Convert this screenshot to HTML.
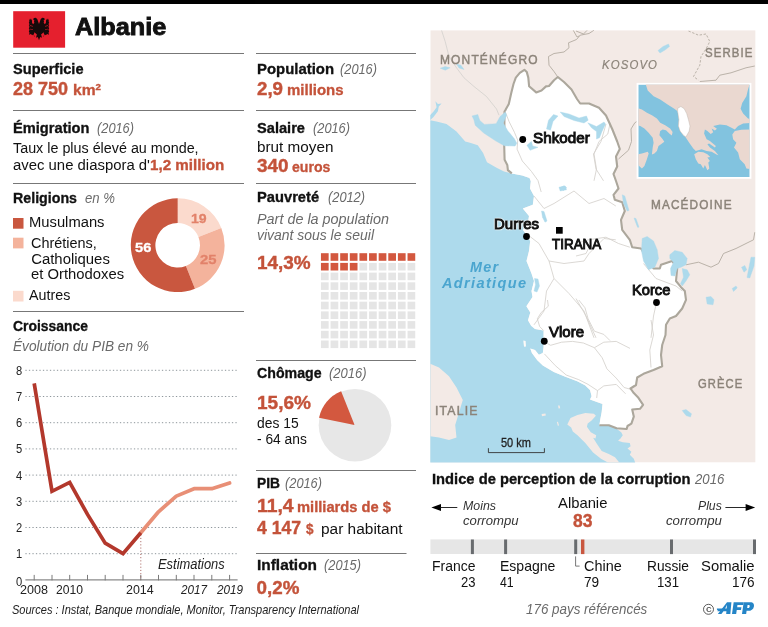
<!DOCTYPE html><html><head><meta charset="utf-8"><title>Albanie</title><style>

html,body{margin:0;padding:0;background:#fff;}
body{width:768px;height:627px;position:relative;overflow:hidden;font-family:"Liberation Sans",sans-serif;}
.t{position:absolute;white-space:nowrap;line-height:1;transform-origin:0 0;}
#w{position:absolute;left:0;top:0;width:768px;height:627px;will-change:transform;opacity:0.999;}
.r{position:absolute;height:1px;background:#6f6f6f;}
svg{position:absolute;left:0;top:0;}

</style></head><body><div id="w">
<svg width="768" height="627" viewBox="0 0 768 627">
<rect x="0" y="0" width="768" height="4" fill="#000"/>
<rect x="13.2" y="11.2" width="51.9" height="36.5" fill="#e5202e"/>
<path transform="translate(8,6) scale(0.083333)" fill="#160a0a" d="M372,215 L352,160 L335,140 L312,145 L300,160 L318,170 L305,185 L318,200 L300,215 L290,180 L275,150 L262,170 L252,150 L256,185 L250,200 L258,215 L250,235 L258,250 L250,270 L258,285 L250,305 L258,320 L252,345 L275,335 L290,350 L305,340 L315,365 L335,355 L340,380 L358,372 L372,410 L386,372 L404,380 L409,355 L429,365 L439,340 L454,350 L469,335 L492,345 L486,320 L494,305 L486,285 L494,270 L486,250 L494,235 L486,215 L494,200 L488,185 L492,150 L482,170 L469,150 L454,180 L444,215 L426,200 L439,185 L426,170 L444,160 L432,145 L409,140 L392,160 Z"/>
<path transform="translate(8,6) scale(0.083333)" fill="#e5202e" d="M296,163 L314,186 L301,218 L287,196 Z M448,163 L430,186 L443,218 L457,196 Z M316,314 L347,343 L336,374 L310,352 Z M428,314 L397,343 L408,374 L434,352 Z M262,232 L300,240 L300,246 L262,240 Z M482,232 L444,240 L444,246 L482,240 Z M262,272 L300,280 L300,286 L262,280 Z M482,272 L444,280 L444,286 L482,280 Z"/>
<rect x="13" y="53" width="231" height="1" fill="#777"/>
<rect x="256" y="53" width="160" height="1" fill="#777"/>
<rect x="13" y="110" width="231" height="1" fill="#777"/>
<rect x="256" y="110" width="160" height="1" fill="#777"/>
<rect x="13" y="183" width="231" height="1" fill="#777"/>
<rect x="256" y="183" width="160" height="1" fill="#777"/>
<rect x="13" y="311" width="231" height="1" fill="#777"/>
<rect x="256" y="360" width="160" height="1" fill="#777"/>
<rect x="256" y="470" width="160" height="1" fill="#777"/>
<rect x="256" y="553" width="150.5" height="1" fill="#777"/>
<rect x="13" y="218" width="10.5" height="10.7" fill="#c9573f"/>
<rect x="13" y="237.7" width="10.5" height="10.7" fill="#f4b39c"/>
<rect x="13" y="290.8" width="10.5" height="10.7" fill="#fbdacd"/>
<path d="M177.70,198.30 A46.9,46.9 0 0 1 221.31,227.93 L198.43,236.99 A22.3,22.3 0 0 0 177.70,222.90Z" fill="#fbdacd"/>
<path d="M221.31,227.93 A46.9,46.9 0 0 1 194.97,288.81 L185.91,265.93 A22.3,22.3 0 0 0 198.43,236.99Z" fill="#f4b39c"/>
<path d="M194.97,288.81 A46.9,46.9 0 1 1 177.70,198.30 L177.70,222.90 A22.3,22.3 0 1 0 185.91,265.93Z" fill="#c9573f"/>
<line x1="25.4" y1="553.7" x2="237.6" y2="553.7" stroke="#8f979c" stroke-width="1" stroke-dasharray="1.3 2.2"/>
<line x1="25.4" y1="527.5" x2="237.6" y2="527.5" stroke="#8f979c" stroke-width="1" stroke-dasharray="1.3 2.2"/>
<line x1="25.4" y1="501.3" x2="237.6" y2="501.3" stroke="#8f979c" stroke-width="1" stroke-dasharray="1.3 2.2"/>
<line x1="25.4" y1="475.1" x2="237.6" y2="475.1" stroke="#8f979c" stroke-width="1" stroke-dasharray="1.3 2.2"/>
<line x1="25.4" y1="448.9" x2="237.6" y2="448.9" stroke="#8f979c" stroke-width="1" stroke-dasharray="1.3 2.2"/>
<line x1="25.4" y1="422.7" x2="237.6" y2="422.7" stroke="#8f979c" stroke-width="1" stroke-dasharray="1.3 2.2"/>
<line x1="25.4" y1="396.5" x2="237.6" y2="396.5" stroke="#8f979c" stroke-width="1" stroke-dasharray="1.3 2.2"/>
<line x1="25.4" y1="370.3" x2="237.6" y2="370.3" stroke="#8f979c" stroke-width="1" stroke-dasharray="1.3 2.2"/>
<line x1="25.4" y1="579.9" x2="237.6" y2="579.9" stroke="#8a8a8a" stroke-width="1.2"/>
<line x1="34.2" y1="574.9" x2="34.2" y2="580.4" stroke="#7a7a7a" stroke-width="1"/>
<line x1="52.0" y1="574.9" x2="52.0" y2="580.4" stroke="#7a7a7a" stroke-width="1"/>
<line x1="69.7" y1="574.9" x2="69.7" y2="580.4" stroke="#7a7a7a" stroke-width="1"/>
<line x1="87.5" y1="574.9" x2="87.5" y2="580.4" stroke="#7a7a7a" stroke-width="1"/>
<line x1="105.2" y1="574.9" x2="105.2" y2="580.4" stroke="#7a7a7a" stroke-width="1"/>
<line x1="123.0" y1="574.9" x2="123.0" y2="580.4" stroke="#7a7a7a" stroke-width="1"/>
<line x1="140.8" y1="574.9" x2="140.8" y2="580.4" stroke="#7a7a7a" stroke-width="1"/>
<line x1="158.5" y1="574.9" x2="158.5" y2="580.4" stroke="#7a7a7a" stroke-width="1"/>
<line x1="176.3" y1="574.9" x2="176.3" y2="580.4" stroke="#7a7a7a" stroke-width="1"/>
<line x1="194.0" y1="574.9" x2="194.0" y2="580.4" stroke="#7a7a7a" stroke-width="1"/>
<line x1="211.8" y1="574.9" x2="211.8" y2="580.4" stroke="#7a7a7a" stroke-width="1"/>
<line x1="229.6" y1="574.9" x2="229.6" y2="580.4" stroke="#7a7a7a" stroke-width="1"/>
<line x1="140.8" y1="534.7" x2="140.8" y2="579.9" stroke="#a35a55" stroke-width="0.9" stroke-dasharray="1.1 2.1"/>
<path d="M140.8,532.7 L158.5,511.8 L176.3,496.1 L194.0,488.7 L211.8,488.7 L229.6,483.0" fill="none" stroke="#e88f76" stroke-width="3.7" stroke-linejoin="round" stroke-linecap="round"/>
<path d="M34.2,383.4 L52.0,491.3 L69.7,482.4 L87.5,514.4 L105.2,543.2 L123.0,553.7 L140.8,532.7" fill="none" stroke="#b3382c" stroke-width="3.7" stroke-linejoin="miter" stroke-linecap="butt"/>
<rect x="320.95" y="253.20" width="7.7" height="7.6" fill="#d3583f"/>
<rect x="330.57" y="253.20" width="7.7" height="7.6" fill="#d3583f"/>
<rect x="340.19" y="253.20" width="7.7" height="7.6" fill="#d3583f"/>
<rect x="349.81" y="253.20" width="7.7" height="7.6" fill="#d3583f"/>
<rect x="359.43" y="253.20" width="7.7" height="7.6" fill="#d3583f"/>
<rect x="369.05" y="253.20" width="7.7" height="7.6" fill="#d3583f"/>
<rect x="378.67" y="253.20" width="7.7" height="7.6" fill="#d3583f"/>
<rect x="388.29" y="253.20" width="7.7" height="7.6" fill="#d3583f"/>
<rect x="397.91" y="253.20" width="7.7" height="7.6" fill="#d3583f"/>
<rect x="407.53" y="253.20" width="7.7" height="7.6" fill="#d3583f"/>
<rect x="320.95" y="262.90" width="7.7" height="7.6" fill="#d3583f"/>
<rect x="330.57" y="262.90" width="7.7" height="7.6" fill="#d3583f"/>
<rect x="340.19" y="262.90" width="7.7" height="7.6" fill="#d3583f"/>
<rect x="349.81" y="262.90" width="7.7" height="7.6" fill="#d3583f"/>
<rect x="359.43" y="262.90" width="7.7" height="7.6" fill="#e5e5e5"/>
<rect x="369.05" y="262.90" width="7.7" height="7.6" fill="#e5e5e5"/>
<rect x="378.67" y="262.90" width="7.7" height="7.6" fill="#e5e5e5"/>
<rect x="388.29" y="262.90" width="7.7" height="7.6" fill="#e5e5e5"/>
<rect x="397.91" y="262.90" width="7.7" height="7.6" fill="#e5e5e5"/>
<rect x="407.53" y="262.90" width="7.7" height="7.6" fill="#e5e5e5"/>
<rect x="320.95" y="272.60" width="7.7" height="7.6" fill="#e5e5e5"/>
<rect x="330.57" y="272.60" width="7.7" height="7.6" fill="#e5e5e5"/>
<rect x="340.19" y="272.60" width="7.7" height="7.6" fill="#e5e5e5"/>
<rect x="349.81" y="272.60" width="7.7" height="7.6" fill="#e5e5e5"/>
<rect x="359.43" y="272.60" width="7.7" height="7.6" fill="#e5e5e5"/>
<rect x="369.05" y="272.60" width="7.7" height="7.6" fill="#e5e5e5"/>
<rect x="378.67" y="272.60" width="7.7" height="7.6" fill="#e5e5e5"/>
<rect x="388.29" y="272.60" width="7.7" height="7.6" fill="#e5e5e5"/>
<rect x="397.91" y="272.60" width="7.7" height="7.6" fill="#e5e5e5"/>
<rect x="407.53" y="272.60" width="7.7" height="7.6" fill="#e5e5e5"/>
<rect x="320.95" y="282.30" width="7.7" height="7.6" fill="#e5e5e5"/>
<rect x="330.57" y="282.30" width="7.7" height="7.6" fill="#e5e5e5"/>
<rect x="340.19" y="282.30" width="7.7" height="7.6" fill="#e5e5e5"/>
<rect x="349.81" y="282.30" width="7.7" height="7.6" fill="#e5e5e5"/>
<rect x="359.43" y="282.30" width="7.7" height="7.6" fill="#e5e5e5"/>
<rect x="369.05" y="282.30" width="7.7" height="7.6" fill="#e5e5e5"/>
<rect x="378.67" y="282.30" width="7.7" height="7.6" fill="#e5e5e5"/>
<rect x="388.29" y="282.30" width="7.7" height="7.6" fill="#e5e5e5"/>
<rect x="397.91" y="282.30" width="7.7" height="7.6" fill="#e5e5e5"/>
<rect x="407.53" y="282.30" width="7.7" height="7.6" fill="#e5e5e5"/>
<rect x="320.95" y="292.00" width="7.7" height="7.6" fill="#e5e5e5"/>
<rect x="330.57" y="292.00" width="7.7" height="7.6" fill="#e5e5e5"/>
<rect x="340.19" y="292.00" width="7.7" height="7.6" fill="#e5e5e5"/>
<rect x="349.81" y="292.00" width="7.7" height="7.6" fill="#e5e5e5"/>
<rect x="359.43" y="292.00" width="7.7" height="7.6" fill="#e5e5e5"/>
<rect x="369.05" y="292.00" width="7.7" height="7.6" fill="#e5e5e5"/>
<rect x="378.67" y="292.00" width="7.7" height="7.6" fill="#e5e5e5"/>
<rect x="388.29" y="292.00" width="7.7" height="7.6" fill="#e5e5e5"/>
<rect x="397.91" y="292.00" width="7.7" height="7.6" fill="#e5e5e5"/>
<rect x="407.53" y="292.00" width="7.7" height="7.6" fill="#e5e5e5"/>
<rect x="320.95" y="301.70" width="7.7" height="7.6" fill="#e5e5e5"/>
<rect x="330.57" y="301.70" width="7.7" height="7.6" fill="#e5e5e5"/>
<rect x="340.19" y="301.70" width="7.7" height="7.6" fill="#e5e5e5"/>
<rect x="349.81" y="301.70" width="7.7" height="7.6" fill="#e5e5e5"/>
<rect x="359.43" y="301.70" width="7.7" height="7.6" fill="#e5e5e5"/>
<rect x="369.05" y="301.70" width="7.7" height="7.6" fill="#e5e5e5"/>
<rect x="378.67" y="301.70" width="7.7" height="7.6" fill="#e5e5e5"/>
<rect x="388.29" y="301.70" width="7.7" height="7.6" fill="#e5e5e5"/>
<rect x="397.91" y="301.70" width="7.7" height="7.6" fill="#e5e5e5"/>
<rect x="407.53" y="301.70" width="7.7" height="7.6" fill="#e5e5e5"/>
<rect x="320.95" y="311.40" width="7.7" height="7.6" fill="#e5e5e5"/>
<rect x="330.57" y="311.40" width="7.7" height="7.6" fill="#e5e5e5"/>
<rect x="340.19" y="311.40" width="7.7" height="7.6" fill="#e5e5e5"/>
<rect x="349.81" y="311.40" width="7.7" height="7.6" fill="#e5e5e5"/>
<rect x="359.43" y="311.40" width="7.7" height="7.6" fill="#e5e5e5"/>
<rect x="369.05" y="311.40" width="7.7" height="7.6" fill="#e5e5e5"/>
<rect x="378.67" y="311.40" width="7.7" height="7.6" fill="#e5e5e5"/>
<rect x="388.29" y="311.40" width="7.7" height="7.6" fill="#e5e5e5"/>
<rect x="397.91" y="311.40" width="7.7" height="7.6" fill="#e5e5e5"/>
<rect x="407.53" y="311.40" width="7.7" height="7.6" fill="#e5e5e5"/>
<rect x="320.95" y="321.10" width="7.7" height="7.6" fill="#e5e5e5"/>
<rect x="330.57" y="321.10" width="7.7" height="7.6" fill="#e5e5e5"/>
<rect x="340.19" y="321.10" width="7.7" height="7.6" fill="#e5e5e5"/>
<rect x="349.81" y="321.10" width="7.7" height="7.6" fill="#e5e5e5"/>
<rect x="359.43" y="321.10" width="7.7" height="7.6" fill="#e5e5e5"/>
<rect x="369.05" y="321.10" width="7.7" height="7.6" fill="#e5e5e5"/>
<rect x="378.67" y="321.10" width="7.7" height="7.6" fill="#e5e5e5"/>
<rect x="388.29" y="321.10" width="7.7" height="7.6" fill="#e5e5e5"/>
<rect x="397.91" y="321.10" width="7.7" height="7.6" fill="#e5e5e5"/>
<rect x="407.53" y="321.10" width="7.7" height="7.6" fill="#e5e5e5"/>
<rect x="320.95" y="330.80" width="7.7" height="7.6" fill="#e5e5e5"/>
<rect x="330.57" y="330.80" width="7.7" height="7.6" fill="#e5e5e5"/>
<rect x="340.19" y="330.80" width="7.7" height="7.6" fill="#e5e5e5"/>
<rect x="349.81" y="330.80" width="7.7" height="7.6" fill="#e5e5e5"/>
<rect x="359.43" y="330.80" width="7.7" height="7.6" fill="#e5e5e5"/>
<rect x="369.05" y="330.80" width="7.7" height="7.6" fill="#e5e5e5"/>
<rect x="378.67" y="330.80" width="7.7" height="7.6" fill="#e5e5e5"/>
<rect x="388.29" y="330.80" width="7.7" height="7.6" fill="#e5e5e5"/>
<rect x="397.91" y="330.80" width="7.7" height="7.6" fill="#e5e5e5"/>
<rect x="407.53" y="330.80" width="7.7" height="7.6" fill="#e5e5e5"/>
<rect x="320.95" y="340.50" width="7.7" height="7.6" fill="#e5e5e5"/>
<rect x="330.57" y="340.50" width="7.7" height="7.6" fill="#e5e5e5"/>
<rect x="340.19" y="340.50" width="7.7" height="7.6" fill="#e5e5e5"/>
<rect x="349.81" y="340.50" width="7.7" height="7.6" fill="#e5e5e5"/>
<rect x="359.43" y="340.50" width="7.7" height="7.6" fill="#e5e5e5"/>
<rect x="369.05" y="340.50" width="7.7" height="7.6" fill="#e5e5e5"/>
<rect x="378.67" y="340.50" width="7.7" height="7.6" fill="#e5e5e5"/>
<rect x="388.29" y="340.50" width="7.7" height="7.6" fill="#e5e5e5"/>
<rect x="397.91" y="340.50" width="7.7" height="7.6" fill="#e5e5e5"/>
<rect x="407.53" y="340.50" width="7.7" height="7.6" fill="#e5e5e5"/>
<circle cx="355" cy="425.2" r="36.3" fill="#e7e7e7"/>
<path d="M354.6,424.9 L319.02,417.73 A36.3,36.3 0 0 1 341.12,391.20Z" fill="#d3583f"/>
<clipPath id="mc"><rect x="430.3" y="30.2" width="325.3" height="432.40000000000003"/></clipPath>
<g clip-path="url(#mc)">
<rect x="430.3" y="30.2" width="325.3" height="432.40000000000003" fill="#f3eae6"/>
<path d="M430.0,120.2 L436.5,121.5 L446.5,124.0 L456.5,131.5 L465.2,141.5 L470.0,142.7 L477.8,145.3 L483.1,153.1 L487.0,162.3 L496.1,167.5 L504.0,171.4 L511.8,173.4 L522.3,175.4 L529.5,178.0 L530.8,181.2 L530.0,188.5 L534.0,196.0 L532.8,204.8 L522.8,208.5 L529.0,216.0 L527.8,223.5 L522.8,229.8 L526.5,234.8 L530.2,241.0 L529.0,251.0 L526.5,261.0 L531.5,273.5 L534.0,281.0 L531.5,291.0 L532.5,297.0 L530.5,300.0 L526.4,306.2 L530.3,312.5 L528.0,320.3 L531.1,325.8 L535.0,328.9 L543.6,330.5 L543.6,337.5 L543.6,346.9 L542.8,353.1 L538.9,354.7 L535.0,350.0 L530.3,348.4 L531.9,353.1 L537.3,360.2 L542.8,365.6 L553.8,371.9 L564.7,376.6 L577.2,381.2 L585.0,385.2 L590.0,390.0 L591.6,396.2 L590.0,399.4 L596.2,401.7 L602.5,404.0 L601.7,411.9 L600.2,419.7 L599.4,425.2 L608.8,425.6 L616.6,428.8 L621.2,432.2 L622.8,435.3 L620.5,438.4 L618.1,440.8 L622.8,442.3 L629.8,443.1 L630.6,446.2 L627.5,448.6 L631.4,451.7 L629.8,454.8 L633.8,458.8 L635.3,463.0 L430.0,463.0Z" fill="#addaec"/>
<path d="M429.9,115.4 L433.8,111.2 L436.6,107.2 L435.4,101.3 L437.9,104.1 L441.6,103.5 L438.8,106.6 L437.9,111.3 L433.5,116.9 L429.9,120.4Z" fill="#addaec"/>
<path d="M430.2,363.8 L439.0,367.5 L449.0,376.2 L456.5,387.5 L462.8,400.0 L459.0,412.5 L455.2,425.0 L456.5,437.5 L449.0,440.0 L439.0,437.5 L430.2,436.2Z" fill="#f3eae6"/>
<path d="M567.3,424.4 L570.5,418.1 L577.5,415.0 L585.3,413.1 L593.9,413.8 L595.9,415.8 L591.6,420.5 L587.7,423.6 L586.9,426.7 L590.8,432.2 L596.2,435.3 L595.5,438.4 L593.1,437.7 L597.0,443.9 L601.7,450.9 L608.8,454.0 L615.0,457.2 L619.7,463.0 L608.8,463.0 L601.0,458.8 L593.1,452.5 L585.3,443.1 L577.5,435.3 L572.8,431.4 L571.2,427.5Z" fill="#f3eae6"/>
<path d="M541.6,414.0 L545.5,413.6 L545.8,415.6 L542.0,416.2Z" fill="#f3eae6"/>
<path d="M558.0,405.6 L559.6,405.4 L560.2,408.2 L558.6,408.6Z" fill="#f3eae6"/>
<path d="M556.9,422.0 L558.0,421.8 L559.0,425.4 L557.8,425.8Z" fill="#f3eae6"/>
<path d="M557.8,77.0 L554.0,71.5 L549.0,65.2 L548.5,56.5 L554.0,53.5 L564.0,52.0 L569.0,47.8 L568.5,42.8 L576.5,39.5 L580.2,35.2 L589.0,33.5 L594.0,30.2" fill="none" stroke="#b3aca2" stroke-width="0.9" stroke-linejoin="round"/>
<path d="M573.2,30.2 L577.0,37.0 L579.5,35.8" fill="none" stroke="#b3aca2" stroke-width="0.9" stroke-linejoin="round"/>
<path d="M618.5,159.0 L628.5,150.2 L631.5,141.5 L631.0,129.0 L634.8,122.8 L636.8,121.5" fill="none" stroke="#b3aca2" stroke-width="0.9" stroke-linejoin="round"/>
<path d="M699.8,81.5 L716.0,80.2 L719.8,75.2 L731.0,72.8 L746.0,67.8 L754.8,66.0" fill="none" stroke="#b3aca2" stroke-width="0.9" stroke-linejoin="round"/>
<path d="M686.0,264.8 L698.5,262.2 L711.0,267.2 L718.5,263.5 L723.5,253.5 L736.0,248.5 L746.0,243.5 L753.5,239.8 L754.8,232.2" fill="none" stroke="#b3aca2" stroke-width="0.9" stroke-linejoin="round"/>
<path d="M576.0,31.0 L583.5,34.0 L587.2,30.2" fill="none" stroke="#b3aca2" stroke-width="0.9" stroke-linejoin="round"/>
<path d="M441.5,30.2 L445.2,41.5 L449.0,56.5 L456.5,67.8 L464.0,77.8 L474.0,86.5 L486.5,96.5 L496.5,109.0 L499.0,115.2" fill="none" stroke="#cfcdca" stroke-width="0.7" stroke-linejoin="round"/>
<path d="M688.5,31.0 L698.5,35.2 L706.0,34.0 L709.8,41.5 L706.0,49.0 L701.0,56.5 L699.8,65.2 L693.5,76.5 L698.5,80.2" fill="none" stroke="#b3aca2" stroke-width="0.9" stroke-dasharray="2.4 1.6"/>
<path d="M511.8,173.4 L507.9,170.1 L507.3,164.9 L504.6,159.7 L504.2,145.3 L504.5,111.5 L505.7,109.6 L508.8,104.1 L511.2,93.2 L513.5,84.0 L515.8,77.6 L519.8,72.9 L524.4,69.8 L526.8,72.1 L528.3,77.6 L529.1,86.2 L536.2,92.4 L541.5,90.5 L546.0,86.4 L549.0,86.0 L554.0,80.2 L557.8,77.0 L564.0,82.0 L571.5,89.5 L577.0,99.0 L580.2,103.5 L589.0,103.5 L599.0,107.8 L606.0,115.5 L612.2,129.0 L617.2,141.5 L619.8,149.0 L616.0,156.5 L617.2,166.5 L613.5,174.0 L616.0,181.0 L618.5,188.5 L613.5,194.8 L614.8,199.8 L622.2,202.2 L624.8,211.0 L621.0,219.8 L622.2,229.8 L629.8,239.8 L632.2,247.2 L641.0,248.5 L653.5,268.5 L659.8,268.5 L661.0,264.8 L672.2,261.0 L677.2,268.5 L676.0,281.0 L681.0,287.2 L684.8,291.0 L686.0,299.8 L682.2,308.5 L676.0,316.0 L669.8,318.5 L666.0,324.8 L665.5,335.0 L662.2,345.0 L661.0,355.0 L662.2,366.2 L653.5,370.0 L643.5,373.8 L637.2,377.5 L636.0,385.0 L630.5,388.5 L633.8,393.1 L638.4,397.8 L643.1,404.8 L640.0,408.8 L632.2,409.5 L633.8,416.6 L631.4,423.6 L627.5,426.0 L626.7,429.0 L616.6,428.3 L608.8,425.2 L599.4,425.2 L600.2,419.7 L601.7,411.9 L602.5,404.0 L596.2,401.7 L590.0,399.4 L591.6,396.2 L590.0,390.0 L585.0,385.2 L577.2,381.2 L564.7,376.6 L553.8,371.9 L542.8,365.6 L537.3,360.2 L531.9,353.1 L530.3,348.4 L535.0,350.0 L538.9,354.7 L542.8,353.1 L543.6,346.9 L543.6,337.5 L543.6,330.5 L535.0,328.9 L531.1,325.8 L528.0,320.3 L530.3,312.5 L526.4,306.2 L530.5,300.0 L532.5,297.0 L531.5,291.0 L534.0,281.0 L531.5,273.5 L526.5,261.0 L529.0,251.0 L530.2,241.0 L526.5,234.8 L522.8,229.8 L527.8,223.5 L529.0,216.0 L522.8,208.5 L532.8,204.8 L534.0,196.0 L530.0,188.5 L530.8,181.2 L529.5,178.0 L522.3,175.4Z" fill="#fff"/>
<path d="M523.3,340.6 L525.6,341.0 L526.0,346.6 L524.0,346.8Z" fill="#fdfaf8"/>
<path d="M543.6,341.4 L550.6,345.3 L561.6,342.2 L572.5,341.4 L583.4,343.0 L594.4,347.7 L603.8,342.2 L616.2,341.4 L630.0,348.4" fill="none" stroke="#d2cec9" stroke-width="0.8" stroke-linejoin="round"/>
<path d="M594.4,347.7 L602.2,357.8 L606.9,368.8 L616.2,378.1 L624.1,387.5 L630.0,389.1" fill="none" stroke="#d2cec9" stroke-width="0.8" stroke-linejoin="round"/>
<path d="M547.5,300.0 L548.3,306.2 L541.2,312.5 L537.3,318.8 L539.7,326.6 L543.6,330.5" fill="none" stroke="#d2cec9" stroke-width="0.8" stroke-linejoin="round"/>
<path d="M578.8,300.0 L585.0,307.8 L588.1,318.8 L594.4,331.2 L603.8,334.4 L610.0,340.6" fill="none" stroke="#d2cec9" stroke-width="0.8" stroke-linejoin="round"/>
<path d="M544.4,353.9 L555.3,365.6 L566.2,375.0 L578.8,379.7 L588.1,384.4 L597.5,390.6 L596.7,398.0" fill="none" stroke="#d2cec9" stroke-width="0.8" stroke-linejoin="round"/>
<path d="M597.5,390.6 L603.8,385.9 L616.2,384.4 L625.6,393.8" fill="none" stroke="#d2cec9" stroke-width="0.8" stroke-linejoin="round"/>
<path d="M505.3,112.0 L509.2,121.8 L514.4,132.2 L517.7,140.1 L517.1,149.2 L522.3,161.0 L531.4,171.4 L538.0,180.6 L541.2,192.0" fill="none" stroke="#d2cec9" stroke-width="0.8" stroke-linejoin="round"/>
<path d="M610.2,122.8 L607.8,134.0 L599.0,141.5 L594.0,154.0 L596.5,169.0 L594.0,180.8" fill="none" stroke="#d2cec9" stroke-width="0.8" stroke-linejoin="round"/>
<path d="M606.0,124.0 L601.0,141.5 L593.5,154.0 L596.0,169.0 L603.5,180.8" fill="none" stroke="#d2cec9" stroke-width="0.8" stroke-linejoin="round"/>
<path d="M534.0,196.0 L544.0,208.5 L554.0,203.5 L574.0,191.0 L589.0,203.5 L604.0,198.5 L615.8,206.0" fill="none" stroke="#d2cec9" stroke-width="0.8" stroke-linejoin="round"/>
<path d="M527.8,234.8 L539.0,243.5 L549.0,261.0 L564.0,263.5 L584.0,261.0 L589.0,253.5 L604.0,238.5 L615.8,239.8" fill="none" stroke="#d2cec9" stroke-width="0.8" stroke-linejoin="round"/>
<path d="M549.0,261.0 L554.0,278.5 L546.5,291.0 L544.0,311.0 L534.0,324.8" fill="none" stroke="#d2cec9" stroke-width="0.8" stroke-linejoin="round"/>
<path d="M554.0,278.5 L569.0,293.5 L584.0,311.0 L594.0,337.8" fill="none" stroke="#d2cec9" stroke-width="0.8" stroke-linejoin="round"/>
<path d="M576.0,243.5 L588.5,239.8 L606.0,237.2 L618.5,243.5 L629.8,247.2" fill="none" stroke="#d2cec9" stroke-width="0.8" stroke-linejoin="round"/>
<path d="M576.0,256.0 L586.0,253.5 L591.0,243.5" fill="none" stroke="#d2cec9" stroke-width="0.8" stroke-linejoin="round"/>
<path d="M643.5,263.5 L656.0,278.5 L676.0,286.0 L682.2,291.0" fill="none" stroke="#d2cec9" stroke-width="0.8" stroke-linejoin="round"/>
<path d="M656.5,302.5 L653.5,316.0 L651.0,337.8" fill="none" stroke="#d2cec9" stroke-width="0.8" stroke-linejoin="round"/>
<path d="M576.0,298.5 L586.0,316.0 L596.0,337.8" fill="none" stroke="#d2cec9" stroke-width="0.8" stroke-linejoin="round"/>
<path d="M651.0,320.0 L653.5,335.0 L649.8,350.0 L651.0,367.5" fill="none" stroke="#d2cec9" stroke-width="0.8" stroke-linejoin="round"/>
<path d="M511.8,173.4 L507.9,170.1 L507.3,164.9 L504.6,159.7 L504.2,145.3 L504.5,111.5 L505.7,109.6 L508.8,104.1 L511.2,93.2 L513.5,84.0 L515.8,77.6 L519.8,72.9 L524.4,69.8 L526.8,72.1 L528.3,77.6 L529.1,86.2 L536.2,92.4 L541.5,90.5 L546.0,86.4 L549.0,86.0 L554.0,80.2 L557.8,77.0 L564.0,82.0 L571.5,89.5 L577.0,99.0 L580.2,103.5 L589.0,103.5 L599.0,107.8 L606.0,115.5 L612.2,129.0 L617.2,141.5 L619.8,149.0 L616.0,156.5 L617.2,166.5 L613.5,174.0 L616.0,181.0 L618.5,188.5 L613.5,194.8 L614.8,199.8 L622.2,202.2 L624.8,211.0 L621.0,219.8 L622.2,229.8 L629.8,239.8 L632.2,247.2 L641.0,248.5 L653.5,268.5 L659.8,268.5 L661.0,264.8 L672.2,261.0 L677.2,268.5 L676.0,281.0 L681.0,287.2 L684.8,291.0 L686.0,299.8 L682.2,308.5 L676.0,316.0 L669.8,318.5 L666.0,324.8 L665.5,335.0 L662.2,345.0 L661.0,355.0 L662.2,366.2 L653.5,370.0 L643.5,373.8 L637.2,377.5 L636.0,385.0 L630.5,388.5 L633.8,393.1 L638.4,397.8 L643.1,404.8 L640.0,408.8 L632.2,409.5 L633.8,416.6 L631.4,423.6 L627.5,426.0 L626.7,429.0 L616.6,428.3 L608.8,425.2 L599.4,425.2" fill="none" stroke="#aca79c" stroke-width="2.1" stroke-linejoin="round"/>
<path d="M472.0,115.9 L477.8,114.6 L479.8,120.5 L484.4,124.4 L496.1,123.7 L500.1,116.5 L505.3,112.0 L506.6,115.2 L503.3,123.1 L507.9,130.9 L514.4,138.8 L516.8,143.3 L515.1,146.1 L504.2,145.7 L495.5,140.8 L483.7,133.0 L475.2,125.2 L473.9,119.8Z" fill="#addaec" stroke="#addaec" stroke-width="0.4" stroke-linejoin="round"/>
<path d="M440.2,68.2 L445.2,66.5 L450.2,67.8 L445.2,70.2Z" fill="#addaec" stroke="#addaec" stroke-width="0.4" stroke-linejoin="round"/>
<path d="M456.5,64.0 L461.0,65.2 L464.0,69.5 L459.0,68.0Z" fill="#addaec" stroke="#addaec" stroke-width="0.4" stroke-linejoin="round"/>
<path d="M546.5,129.0 L548.5,120.2 L553.5,114.5 L558.0,116.0 L553.0,121.5 L550.5,130.2Z" fill="#addaec" stroke="#addaec" stroke-width="0.4" stroke-linejoin="round"/>
<path d="M560.2,112.0 L569.0,114.0 L579.0,118.0 L586.5,116.0 L588.2,120.2 L584.0,123.0 L574.0,120.5 L564.0,116.5Z" fill="#addaec" stroke="#addaec" stroke-width="0.4" stroke-linejoin="round"/>
<path d="M587.8,122.8 L596.5,126.5 L604.0,122.0 L605.5,124.0 L602.0,131.5 L599.5,137.8 L596.5,139.0 L596.5,131.5 L591.5,127.8Z" fill="#addaec" stroke="#addaec" stroke-width="0.4" stroke-linejoin="round"/>
<path d="M526.9,145.3 L531.4,141.4 L532.7,145.9 L538.0,147.3 L530.1,150.3Z" fill="#addaec" stroke="#addaec" stroke-width="0.4" stroke-linejoin="round"/>
<path d="M658.0,50.5 L663.0,46.5 L668.5,44.0 L669.5,46.5 L665.0,50.0 L660.0,53.0Z" fill="#addaec" stroke="#addaec" stroke-width="0.4" stroke-linejoin="round"/>
<path d="M559.0,187.2 L565.2,186.0 L566.5,189.8 L560.2,191.0Z" fill="#addaec" stroke="#addaec" stroke-width="0.4" stroke-linejoin="round"/>
<path d="M541.5,211.0 L544.0,211.5 L547.0,221.0 L545.0,222.2 L542.5,217.2Z" fill="#addaec" stroke="#addaec" stroke-width="0.4" stroke-linejoin="round"/>
<path d="M534.5,278.5 L538.0,279.0 L539.5,286.0 L537.0,292.0 L534.0,291.0 L535.5,284.8Z" fill="#addaec" stroke="#addaec" stroke-width="0.4" stroke-linejoin="round"/>
<path d="M642.2,238.5 L647.2,236.5 L653.5,241.0 L657.2,249.8 L658.5,258.5 L654.8,267.2 L648.5,269.8 L643.5,261.0 L641.5,251.0Z" fill="#addaec" stroke="#addaec" stroke-width="0.4" stroke-linejoin="round"/>
<path d="M669.8,254.8 L674.8,250.5 L682.2,252.2 L687.2,258.5 L686.0,264.8 L681.0,267.2 L677.2,268.5 L674.8,276.0 L671.0,275.5 L670.5,268.5 L673.5,262.2 L669.8,258.5Z" fill="#addaec" stroke="#addaec" stroke-width="0.4" stroke-linejoin="round"/>
<path d="M682.2,268.5 L687.2,269.8 L689.8,274.8 L686.0,281.0 L682.2,286.0 L680.5,283.5 L683.5,277.2Z" fill="#addaec" stroke="#addaec" stroke-width="0.4" stroke-linejoin="round"/>
<path d="M622.2,194.8 L624.8,196.0 L629.0,210.5 L627.2,211.0 L623.5,203.5Z" fill="#addaec" stroke="#addaec" stroke-width="0.4" stroke-linejoin="round"/>
<path d="M634.0,218.0 L636.0,218.5 L639.0,227.2 L637.5,227.2Z" fill="#addaec" stroke="#addaec" stroke-width="0.4" stroke-linejoin="round"/>
<path d="M741.5,267.2 L744.8,265.5 L746.8,269.8 L744.0,272.2Z" fill="#addaec" stroke="#addaec" stroke-width="0.4" stroke-linejoin="round"/>
<path d="M751.0,257.2 L754.8,257.2 L754.0,266.0 L749.8,278.0 L747.0,277.5 L749.0,267.2Z" fill="#addaec" stroke="#addaec" stroke-width="0.4" stroke-linejoin="round"/>
<path d="M732.2,288.5 L736.0,286.0 L737.2,288.0 L733.5,291.5Z" fill="#addaec" stroke="#addaec" stroke-width="0.4" stroke-linejoin="round"/>
<path d="M706.0,297.2 L711.0,296.5 L714.0,299.8 L713.0,304.8 L707.2,304.0Z" fill="#addaec" stroke="#addaec" stroke-width="0.4" stroke-linejoin="round"/>
<path d="M682.2,410.5 L686.0,409.5 L691.5,413.8 L690.5,417.0 L686.0,415.5Z" fill="#addaec" stroke="#addaec" stroke-width="0.4" stroke-linejoin="round"/>
<path d="M559.5,187.8 L564.1,185.8 L566.7,187.8 L563.5,190.4Z" fill="#addaec" stroke="#addaec" stroke-width="0.4" stroke-linejoin="round"/>
<circle cx="522.75" cy="139.5" r="3.4" fill="#000"/>
<circle cx="526.5" cy="236.5" r="3.4" fill="#000"/>
<circle cx="656.5" cy="302.5" r="3.4" fill="#000"/>
<circle cx="544.25" cy="341.25" r="3.4" fill="#000"/>
<rect x="556" y="227" width="6.7" height="6.7" fill="#000"/>
<path d="M488.4,448.2 V452.6 H544.4 V448.2" fill="none" stroke="#333" stroke-width="0.9"/>
</g>
<clipPath id="ic"><rect x="638.3" y="84.6" width="111.40000000000009" height="92.5"/></clipPath>
<rect x="636.5999999999999" y="82.89999999999999" width="114.8000000000001" height="95.9" fill="#fff"/>
<g clip-path="url(#ic)">
<rect x="638.3" y="84.6" width="111.40000000000009" height="92.5" fill="#82c3df"/>
<path d="M645.3,83.0 L647.7,90.4 L653.6,96.2 L660.2,99.6 L667.6,104.5 L674.3,108.7 L677.6,111.2 L678.9,119.4 L678.4,126.1 L680.1,131.1 L683.4,135.2 L685.4,136.9 L689.2,142.7 L693.3,148.5 L695.8,150.9 L701.6,149.3 L706.6,150.9 L711.6,151.8 L716.5,154.6 L718.5,155.3 L714.9,150.9 L709.9,147.6 L707.4,144.3 L709.1,143.5 L714.9,147.6 L715.9,146.0 L709.9,141.0 L706.6,139.3 L704.1,133.5 L704.9,129.4 L707.4,131.1 L710.7,133.9 L713.2,132.2 L711.6,128.6 L714.9,130.6 L716.9,128.7 L713.2,126.1 L719.9,124.4 L726.5,125.2 L731.5,127.7 L734.8,129.4 L738.1,126.1 L743.1,123.6 L751.4,122.8 L751.4,119.4 L748.0,118.6 L743.1,113.6 L740.6,108.7 L742.2,102.9 L746.4,96.2 L748.0,89.6 L750.0,83.0Z" fill="#ead8d0"/>
<path d="M694.2,154.3 L698.3,151.8 L703.3,152.3 L707.4,154.3 L710.2,156.9 L707.4,157.6 L709.9,160.9 L708.3,162.5 L709.3,168.4 L707.4,170.2 L704.9,165.0 L703.3,168.5 L700.8,164.2 L698.3,163.4 L695.8,159.2Z" fill="#ead8d0"/>
<path d="M751.4,129.4 L741.4,129.7 L734.8,131.1 L732.3,134.4 L733.1,139.3 L736.4,142.7 L734.0,147.6 L738.1,152.6 L739.8,159.2 L744.7,164.2 L746.4,168.4 L751.4,169.2Z" fill="#ead8d0"/>
<path d="M637.0,107.8 L641.9,109.5 L646.9,112.8 L651.9,115.3 L656.9,118.6 L660.2,122.8 L665.2,125.2 L670.1,128.6 L672.6,131.9 L671.8,135.4 L669.3,133.5 L666.0,130.2 L662.7,129.4 L660.2,131.1 L659.4,135.2 L662.7,139.3 L664.3,141.8 L661.0,144.3 L658.5,146.0 L656.9,150.9 L654.4,153.4 L651.9,154.6 L652.7,147.6 L653.6,142.7 L652.7,137.7 L648.6,132.7 L644.4,128.6 L640.3,126.1 L637.0,125.2Z" fill="#ead8d0"/>
<path d="M637.0,154.6 L641.9,153.4 L647.7,151.8 L648.7,153.6 L646.9,159.2 L644.4,165.9 L641.9,168.5 L637.0,164.2Z" fill="#ead8d0"/>
<path d="M677.6,111.2 L677.8,108.2 L680.9,106.5 L684.2,108.7 L686.7,113.6 L688.4,119.4 L690.0,126.1 L689.2,131.1 L685.9,137.0 L683.4,135.2 L680.1,131.1 L678.4,126.1 L678.9,119.4Z" fill="#fff" stroke="#b5afa6" stroke-width="0.4"/>
</g>
<rect x="430.4" y="539.4" width="325" height="14.6" fill="#e6e6e6"/>
<rect x="470.9" y="539.5" width="3" height="14.6" fill="#686b6e"/>
<rect x="504.1" y="539.5" width="3" height="14.6" fill="#686b6e"/>
<rect x="574.2" y="539.5" width="3" height="14.6" fill="#686b6e"/>
<rect x="670.0" y="539.5" width="3" height="14.6" fill="#686b6e"/>
<rect x="753.0" y="539.5" width="3" height="14.6" fill="#686b6e"/>
<rect x="581.0" y="539.5" width="3.4" height="14.6" fill="#c9573f"/>
<path d="M575.6,556.4 V566.1 H579.6" fill="none" stroke="#555" stroke-width="0.8"/>
<path d="M431.4,507.5 L441,504 L441,511Z" fill="#000"/><line x1="440" y1="507.5" x2="457.3" y2="507.5" stroke="#111" stroke-width="0.9"/>
<path d="M755.2,507.5 L745.6,504 L745.6,511Z" fill="#000"/><line x1="725.4" y1="507.5" x2="746.5" y2="507.5" stroke="#111" stroke-width="0.9"/>
<g transform="translate(696,596) scale(0.083333)" fill="#2585c7" fill-rule="evenodd">
<path d="M262,215 L372,75 L425,75 L412,215 L362,215 L365,182 L330,182 L305,215 Z M350,150 L368,150 L372,106 Z"/>
<path d="M250,150 L340,150 L318,182 L256,182 L262,170 L252,166 Z"/>
<path d="M432,215 L452,75 L572,75 L567,108 L497,108 L494,135 L545,135 L540,167 L489,167 L482,215 Z"/>
<path d="M552,215 L572,75 L650,75 C690,75 700,100 695,125 C690,160 660,178 625,178 L607,178 L602,215 Z M619,108 L614,145 L630,145 C646,145 651,108 636,108 Z"/>
</g>
<circle cx="708.5" cy="609.3" r="5" fill="none" stroke="#333" stroke-width="0.8"/>
</svg>
<div class="t" id="t0" style="left:74.8px;top:15.31px;font-size:24.6px;font-weight:700;font-style:normal;color:#111;transform:scaleX(1.0267);-webkit-text-stroke:0.90px;">Albanie</div>
<div class="t" id="t1" style="left:13px;top:61.21px;font-size:15.2px;font-weight:700;font-style:normal;color:#111;transform:scaleX(0.9600);-webkit-text-stroke:0.33px;">Superficie</div>
<div class="t" id="t2" style="left:13px;top:80.01px;font-size:18.8px;font-weight:700;font-style:normal;color:#c4533a;transform:scaleX(0.9573);-webkit-text-stroke:0.41px;">28 750</div>
<div class="t" id="t3" style="left:73px;top:82.01px;font-size:15.2px;font-weight:700;font-style:normal;color:#c4533a;transform:scaleX(1.0275);-webkit-text-stroke:0.33px;">km<span style="font-size:9.5px;position:relative;top:-5.5px">2</span></div>
<div class="t" id="t4" style="left:13px;top:119.51px;font-size:15.2px;font-weight:700;font-style:normal;color:#111;transform:scaleX(0.9643);-webkit-text-stroke:0.33px;">Émigration</div>
<div class="t" id="t5" style="left:97px;top:120.52px;font-size:14.6px;font-weight:400;font-style:italic;color:#6a6a6a;transform:scaleX(0.8770);">(2016)</div>
<div class="t" id="t6" style="left:13px;top:141.21px;font-size:14.9px;font-weight:400;font-style:normal;color:#111;transform:scaleX(0.9623);">Taux le plus élevé au monde,</div>
<div class="t" id="t7" style="left:13px;top:157.60px;font-size:14.9px;font-weight:400;font-style:normal;color:#111;">avec une diaspora d'</div>
<div class="t" id="t8" style="left:150.4px;top:157.61px;font-size:14.8px;font-weight:700;font-style:normal;color:#c4533a;transform:scaleX(1.0254);-webkit-text-stroke:0.33px;">1,2 million</div>
<div class="t" id="t9" style="left:13px;top:189.51px;font-size:15.2px;font-weight:700;font-style:normal;color:#111;transform:scaleX(0.9362);-webkit-text-stroke:0.33px;">Religions</div>
<div class="t" id="t10" style="left:84.6px;top:190.52px;font-size:14.6px;font-weight:400;font-style:italic;color:#6a6a6a;transform:scaleX(0.9018);">en %</div>
<div class="t" id="t11" style="left:29.3px;top:215.21px;font-size:14.9px;font-weight:400;font-style:normal;color:#111;transform:scaleX(0.9916);">Musulmans</div>
<div class="t" id="t12" style="left:31.2px;top:235.71px;font-size:14.9px;font-weight:400;font-style:normal;color:#111;transform:scaleX(0.9694);">Chrétiens,</div>
<div class="t" id="t13" style="left:31.2px;top:251.60px;font-size:14.9px;font-weight:400;font-style:normal;color:#111;">Catholiques</div>
<div class="t" id="t14" style="left:31.2px;top:267.30px;font-size:14.9px;font-weight:400;font-style:normal;color:#111;transform:scaleX(0.9952);">et Orthodoxes</div>
<div class="t" id="t15" style="left:29.3px;top:287.80px;font-size:14.9px;font-weight:400;font-style:normal;color:#111;transform:scaleX(0.9594);">Autres</div>
<div class="t" id="t16" style="left:191.3px;top:211.50px;font-size:13.2px;font-weight:700;font-style:normal;color:#e2826a;transform:scaleX(1.0701);-webkit-text-stroke:0.29px;">19</div>
<div class="t" id="t17" style="left:135px;top:240.60px;font-size:13.2px;font-weight:700;font-style:normal;color:#fff;transform:scaleX(1.1178);-webkit-text-stroke:0.29px;">56</div>
<div class="t" id="t18" style="left:200px;top:252.60px;font-size:13.2px;font-weight:700;font-style:normal;color:#e2826a;transform:scaleX(1.1246);-webkit-text-stroke:0.29px;">25</div>
<div class="t" id="t19" style="left:13px;top:317.51px;font-size:15.2px;font-weight:700;font-style:normal;color:#111;transform:scaleX(0.9159);-webkit-text-stroke:0.33px;">Croissance</div>
<div class="t" id="t20" style="left:13px;top:338.31px;font-size:15.2px;font-weight:400;font-style:italic;color:#6a6a6a;transform:scaleX(0.8998);">Évolution du PIB en %</div>
<div class="t" id="t21" style="left:15.8px;top:575.71px;font-size:12.3px;font-weight:400;font-style:normal;color:#222;transform:scaleX(0.9059);">0</div>
<div class="t" id="t22" style="left:15.8px;top:548.10px;font-size:12.3px;font-weight:400;font-style:normal;color:#222;transform:scaleX(0.9059);">1</div>
<div class="t" id="t23" style="left:15.8px;top:521.90px;font-size:12.3px;font-weight:400;font-style:normal;color:#222;transform:scaleX(0.9059);">2</div>
<div class="t" id="t24" style="left:15.8px;top:495.71px;font-size:12.3px;font-weight:400;font-style:normal;color:#222;transform:scaleX(0.9059);">3</div>
<div class="t" id="t25" style="left:15.8px;top:469.51px;font-size:12.3px;font-weight:400;font-style:normal;color:#222;transform:scaleX(0.9059);">4</div>
<div class="t" id="t26" style="left:15.8px;top:443.31px;font-size:12.3px;font-weight:400;font-style:normal;color:#222;transform:scaleX(0.9059);">5</div>
<div class="t" id="t27" style="left:15.8px;top:417.10px;font-size:12.3px;font-weight:400;font-style:normal;color:#222;transform:scaleX(0.9059);">6</div>
<div class="t" id="t28" style="left:15.8px;top:390.90px;font-size:12.3px;font-weight:400;font-style:normal;color:#222;transform:scaleX(0.9059);">7</div>
<div class="t" id="t29" style="left:15.8px;top:364.71px;font-size:12.3px;font-weight:400;font-style:normal;color:#222;transform:scaleX(0.9059);">8</div>
<div class="t" id="t30" style="left:157.9px;top:556.52px;font-size:14.6px;font-weight:400;font-style:italic;color:#222;transform:scaleX(0.8842);">Estimations</div>
<div class="t" id="t31" style="left:20.2px;top:583.20px;font-size:13.6px;font-weight:400;font-style:normal;color:#222;transform:scaleX(0.9256);">2008</div>
<div class="t" id="t32" style="left:56px;top:583.20px;font-size:13.6px;font-weight:400;font-style:normal;color:#222;transform:scaleX(0.8926);">2010</div>
<div class="t" id="t33" style="left:126.3px;top:583.20px;font-size:13.6px;font-weight:400;font-style:normal;color:#222;transform:scaleX(0.9157);">2014</div>
<div class="t" id="t34" style="left:181px;top:583.20px;font-size:13.6px;font-weight:400;font-style:italic;color:#222;transform:scaleX(0.8595);">2017</div>
<div class="t" id="t35" style="left:216.5px;top:583.20px;font-size:13.6px;font-weight:400;font-style:italic;color:#222;transform:scaleX(0.8595);">2019</div>
<div class="t" id="t36" style="left:12.4px;top:604.21px;font-size:12.2px;font-weight:400;font-style:italic;color:#222;transform:scaleX(0.9039);">Sources : Instat, Banque mondiale, Monitor, Transparency International</div>
<div class="t" id="t37" style="left:256.6px;top:61.21px;font-size:15.2px;font-weight:700;font-style:normal;color:#111;transform:scaleX(0.9813);-webkit-text-stroke:0.33px;">Population</div>
<div class="t" id="t38" style="left:339.8px;top:62.21px;font-size:14.6px;font-weight:400;font-style:italic;color:#6a6a6a;transform:scaleX(0.8770);">(2016)</div>
<div class="t" id="t39" style="left:256.6px;top:79.70px;font-size:18.8px;font-weight:700;font-style:normal;color:#c4533a;transform:scaleX(0.9958);-webkit-text-stroke:0.41px;">2,9</div>
<div class="t" id="t40" style="left:286.6px;top:81.71px;font-size:15.2px;font-weight:700;font-style:normal;color:#c4533a;transform:scaleX(0.9862);-webkit-text-stroke:0.33px;">millions</div>
<div class="t" id="t41" style="left:256.6px;top:120.01px;font-size:15.2px;font-weight:700;font-style:normal;color:#111;transform:scaleX(0.9633);-webkit-text-stroke:0.33px;">Salaire</div>
<div class="t" id="t42" style="left:312.8px;top:121.02px;font-size:14.6px;font-weight:400;font-style:italic;color:#6a6a6a;transform:scaleX(0.8770);">(2016)</div>
<div class="t" id="t43" style="left:256.6px;top:140.30px;font-size:14.9px;font-weight:400;font-style:normal;color:#111;transform:scaleX(1.0268);">brut moyen</div>
<div class="t" id="t44" style="left:256.6px;top:157.01px;font-size:18.8px;font-weight:700;font-style:normal;color:#c4533a;transform:scaleX(1.0050);-webkit-text-stroke:0.41px;">340</div>
<div class="t" id="t45" style="left:291.8px;top:159.01px;font-size:15.2px;font-weight:700;font-style:normal;color:#c4533a;transform:scaleX(0.9284);-webkit-text-stroke:0.33px;">euros</div>
<div class="t" id="t46" style="left:256.6px;top:189.21px;font-size:15.2px;font-weight:700;font-style:normal;color:#111;transform:scaleX(0.9677);-webkit-text-stroke:0.33px;">Pauvreté</div>
<div class="t" id="t47" style="left:327.9px;top:190.21px;font-size:14.6px;font-weight:400;font-style:italic;color:#6a6a6a;transform:scaleX(0.8770);">(2012)</div>
<div class="t" id="t48" style="left:256.6px;top:211.01px;font-size:15.2px;font-weight:400;font-style:italic;color:#6a6a6a;transform:scaleX(0.9474);">Part de la population</div>
<div class="t" id="t49" style="left:256.6px;top:226.81px;font-size:15.2px;font-weight:400;font-style:italic;color:#6a6a6a;transform:scaleX(0.9178);">vivant sous le seuil</div>
<div class="t" id="t50" style="left:256.9px;top:254.01px;font-size:18.8px;font-weight:700;font-style:normal;color:#c4533a;transform:scaleX(1.0082);-webkit-text-stroke:0.41px;">14,3%</div>
<div class="t" id="t51" style="left:256.6px;top:365.31px;font-size:15.2px;font-weight:700;font-style:normal;color:#111;transform:scaleX(0.9335);-webkit-text-stroke:0.33px;">Chômage</div>
<div class="t" id="t52" style="left:328.6px;top:366.30px;font-size:14.6px;font-weight:400;font-style:italic;color:#6a6a6a;transform:scaleX(0.8889);">(2016)</div>
<div class="t" id="t53" style="left:256.6px;top:393.51px;font-size:18.8px;font-weight:700;font-style:normal;color:#c4533a;transform:scaleX(1.0138);-webkit-text-stroke:0.41px;">15,6%</div>
<div class="t" id="t54" style="left:256.6px;top:416.30px;font-size:14.9px;font-weight:400;font-style:normal;color:#111;transform:scaleX(0.9303);">des 15</div>
<div class="t" id="t55" style="left:256.6px;top:431.91px;font-size:14.9px;font-weight:400;font-style:normal;color:#111;transform:scaleX(0.9254);">- 64 ans</div>
<div class="t" id="t56" style="left:256.6px;top:475.21px;font-size:15.2px;font-weight:700;font-style:normal;color:#111;transform:scaleX(0.9081);-webkit-text-stroke:0.33px;">PIB</div>
<div class="t" id="t57" style="left:285.3px;top:476.21px;font-size:14.6px;font-weight:400;font-style:italic;color:#6a6a6a;transform:scaleX(0.8770);">(2016)</div>
<div class="t" id="t58" style="left:256.6px;top:496.60px;font-size:18.8px;font-weight:700;font-style:normal;color:#c4533a;transform:scaleX(1.0301);-webkit-text-stroke:0.41px;">11,4</div>
<div class="t" id="t59" style="left:297.4px;top:498.61px;font-size:15.2px;font-weight:700;font-style:normal;color:#c4533a;transform:scaleX(0.9683);-webkit-text-stroke:0.33px;">milliards de $</div>
<div class="t" id="t60" style="left:256.6px;top:518.90px;font-size:18.8px;font-weight:700;font-style:normal;color:#c4533a;transform:scaleX(0.9362);-webkit-text-stroke:0.41px;">4 147</div>
<div class="t" id="t61" style="left:305.6px;top:520.92px;font-size:15.2px;font-weight:700;font-style:normal;color:#c4533a;transform:scaleX(0.8872);-webkit-text-stroke:0.33px;">$</div>
<div class="t" id="t62" style="left:321.2px;top:521.91px;font-size:14.9px;font-weight:400;font-style:normal;color:#111;transform:scaleX(1.0374);">par habitant</div>
<div class="t" id="t63" style="left:256.6px;top:557.21px;font-size:15.2px;font-weight:700;font-style:normal;color:#111;transform:scaleX(1.0159);-webkit-text-stroke:0.33px;">Inflation</div>
<div class="t" id="t64" style="left:323.7px;top:558.21px;font-size:14.6px;font-weight:400;font-style:italic;color:#6a6a6a;transform:scaleX(0.8770);">(2015)</div>
<div class="t" id="t65" style="left:256.6px;top:579.01px;font-size:18.8px;font-weight:700;font-style:normal;color:#c4533a;-webkit-text-stroke:0.41px;">0,2%</div>
<div class="t" id="t66" style="left:440.3px;top:53.50px;font-size:12.4px;font-weight:400;font-style:normal;color:#8b8379;transform:scaleX(0.9655);-webkit-text-stroke:0.45px;letter-spacing:1.2px;">MONTÉNÉGRO</div>
<div class="t" id="t67" style="left:602.3px;top:58.50px;font-size:12.4px;font-weight:400;font-style:italic;color:#8b8379;transform:scaleX(0.9209);-webkit-text-stroke:0.20px;letter-spacing:1.2px;">KOSOVO</div>
<div class="t" id="t68" style="left:704.8px;top:47.22px;font-size:12.4px;font-weight:400;font-style:normal;color:#8b8379;transform:scaleX(0.9231);-webkit-text-stroke:0.45px;letter-spacing:1.2px;">SERBIE</div>
<div class="t" id="t69" style="left:650.5px;top:199.22px;font-size:12.4px;font-weight:400;font-style:normal;color:#8b8379;transform:scaleX(0.9510);-webkit-text-stroke:0.45px;letter-spacing:1.2px;">MACÉDOINE</div>
<div class="t" id="t70" style="left:698px;top:377.50px;font-size:12.4px;font-weight:400;font-style:normal;color:#8b8379;transform:scaleX(0.9063);-webkit-text-stroke:0.45px;letter-spacing:1.2px;">GRÈCE</div>
<div class="t" id="t71" style="left:435.3px;top:404.50px;font-size:12.4px;font-weight:400;font-style:normal;color:#8b8379;transform:scaleX(0.9894);-webkit-text-stroke:0.45px;letter-spacing:1.2px;">ITALIE</div>
<div class="t" id="t72" style="left:532.5px;top:130.61px;font-size:14.8px;font-weight:400;font-style:normal;color:#111;transform:scaleX(1.0304);-webkit-text-stroke:0.95px;text-shadow:0 0 2px #fff,0 0 2px #fff,1px 0 1px #fff,-1px 0 1px #fff,0 1px 1px #fff,0 -1px 1px #fff;">Shkoder</div>
<div class="t" id="t73" style="left:494px;top:217.01px;font-size:14.5px;font-weight:400;font-style:normal;color:#111;transform:scaleX(1.0341);-webkit-text-stroke:0.95px;text-shadow:0 0 2px #fff,0 0 2px #fff,1px 0 1px #fff,-1px 0 1px #fff,0 1px 1px #fff,0 -1px 1px #fff;">Durres</div>
<div class="t" id="t74" style="left:551.5px;top:236.51px;font-size:14.5px;font-weight:400;font-style:normal;color:#111;transform:scaleX(0.9272);-webkit-text-stroke:0.95px;text-shadow:0 0 2px #fff,0 0 2px #fff,1px 0 1px #fff,-1px 0 1px #fff,0 1px 1px #fff,0 -1px 1px #fff;">TIRANA</div>
<div class="t" id="t75" style="left:631.5px;top:282.81px;font-size:14.5px;font-weight:400;font-style:normal;color:#111;transform:scaleX(1.0108);-webkit-text-stroke:0.95px;text-shadow:0 0 2px #fff,0 0 2px #fff,1px 0 1px #fff,-1px 0 1px #fff,0 1px 1px #fff,0 -1px 1px #fff;">Korce</div>
<div class="t" id="t76" style="left:549px;top:325.01px;font-size:14.5px;font-weight:400;font-style:normal;color:#111;transform:scaleX(1.0337);-webkit-text-stroke:0.95px;text-shadow:0 0 2px #fff,0 0 2px #fff,1px 0 1px #fff,-1px 0 1px #fff,0 1px 1px #fff,0 -1px 1px #fff;">Vlore</div>
<div class="t" id="t77" style="left:470.2px;top:260.40px;font-size:14.2px;font-weight:700;font-style:italic;color:#4aa5cf;transform:scaleX(1.0129);letter-spacing:1.3px;">Mer</div>
<div class="t" id="t78" style="left:442px;top:276.21px;font-size:14.2px;font-weight:700;font-style:italic;color:#4aa5cf;transform:scaleX(1.0262);letter-spacing:1.3px;">Adriatique</div>
<div class="t" id="t79" style="left:501px;top:436.81px;font-size:12.8px;font-weight:400;font-style:normal;color:#222;transform:scaleX(0.8606);-webkit-text-stroke:0.30px;">50 km</div>
<div class="t" id="t80" style="left:431.5px;top:471.42px;font-size:15.2px;font-weight:700;font-style:normal;color:#111;transform:scaleX(0.9697);-webkit-text-stroke:0.33px;">Indice de perception de la corruption</div>
<div class="t" id="t81" style="left:694.5px;top:471.42px;font-size:15.2px;font-weight:400;font-style:italic;color:#6a6a6a;transform:scaleX(0.8669);">2016</div>
<div class="t" id="t82" style="left:462.5px;top:499.41px;font-size:13.4px;font-weight:400;font-style:italic;color:#333;transform:scaleX(0.9235);">Moins</div>
<div class="t" id="t83" style="left:462.5px;top:513.61px;font-size:13.4px;font-weight:400;font-style:italic;color:#333;transform:scaleX(0.9812);">corrompu</div>
<div class="t" id="t84" style="left:697.8px;top:499.41px;font-size:13.4px;font-weight:400;font-style:italic;color:#333;transform:scaleX(0.9132);">Plus</div>
<div class="t" id="t85" style="left:665.9px;top:513.61px;font-size:13.4px;font-weight:400;font-style:italic;color:#333;transform:scaleX(0.9883);">corrompu</div>
<div class="t" id="t86" style="left:557.8px;top:495.70px;font-size:14.5px;font-weight:400;font-style:normal;color:#111;transform:scaleX(1.0212);">Albanie</div>
<div class="t" id="t87" style="left:572.9px;top:511.90px;font-size:18.8px;font-weight:700;font-style:normal;color:#c4533a;transform:scaleX(0.9286);-webkit-text-stroke:0.41px;">83</div>
<div class="t" id="t88" style="left:432.3px;top:559.10px;font-size:14.5px;font-weight:400;font-style:normal;color:#111;transform:scaleX(0.9614);">France</div>
<div class="t" id="t89" style="left:461.2px;top:575.31px;font-size:14.5px;font-weight:400;font-style:normal;color:#111;transform:scaleX(0.8984);">23</div>
<div class="t" id="t90" style="left:500.4px;top:559.10px;font-size:14.5px;font-weight:400;font-style:normal;color:#111;transform:scaleX(0.9677);">Espagne</div>
<div class="t" id="t91" style="left:500.4px;top:575.31px;font-size:14.5px;font-weight:400;font-style:normal;color:#111;transform:scaleX(0.8488);">41</div>
<div class="t" id="t92" style="left:583.8px;top:559.10px;font-size:14.5px;font-weight:400;font-style:normal;color:#111;transform:scaleX(0.9950);">Chine</div>
<div class="t" id="t93" style="left:583.8px;top:575.31px;font-size:14.5px;font-weight:400;font-style:normal;color:#111;transform:scaleX(0.9417);">79</div>
<div class="t" id="t94" style="left:647px;top:559.10px;font-size:14.5px;font-weight:400;font-style:normal;color:#111;transform:scaleX(0.9475);">Russie</div>
<div class="t" id="t95" style="left:656.6px;top:575.31px;font-size:14.5px;font-weight:400;font-style:normal;color:#111;transform:scaleX(0.9090);">131</div>
<div class="t" id="t96" style="left:701px;top:559.10px;font-size:14.5px;font-weight:400;font-style:normal;color:#111;transform:scaleX(1.0231);">Somalie</div>
<div class="t" id="t97" style="left:732px;top:575.31px;font-size:14.5px;font-weight:400;font-style:normal;color:#111;transform:scaleX(0.9338);">176</div>
<div class="t" id="t98" style="left:525.7px;top:601.21px;font-size:15.2px;font-weight:400;font-style:italic;color:#6a6a6a;transform:scaleX(0.8814);">176 pays référencés</div>
<div class="t" id="t99" style="left:705.6px;top:605.42px;font-size:9px;font-weight:400;font-style:normal;color:#333;transform:scaleX(1.2444);">c</div>
</div></body></html>
